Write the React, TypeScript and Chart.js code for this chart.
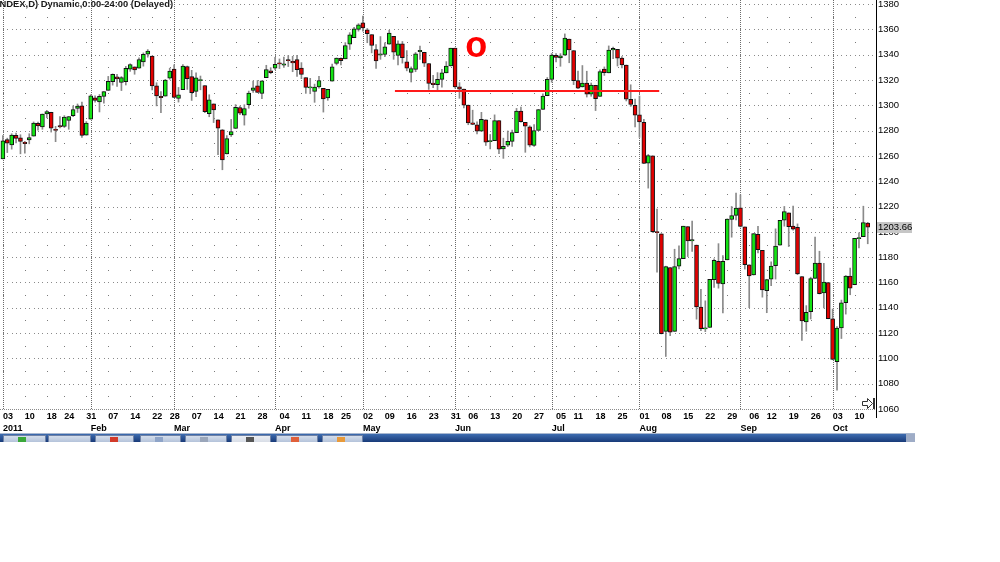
import React, { useEffect, useRef } from "react";
import { Chart, registerables } from "chart.js";

Chart.register(...registerables);

// ---------- DATA ----------
const dates: string[] = [
  "01-03","01-04","01-05","01-06","01-07","01-10","01-11","01-12","01-13","01-14","01-18","01-19","01-20","01-21","01-24","01-25","01-26","01-27","01-28","01-31",
  "02-01","02-02","02-03","02-04","02-07","02-08","02-09","02-10","02-11","02-14","02-15","02-16","02-17","02-18","02-22","02-23","02-24","02-25","02-28",
  "03-01","03-02","03-03","03-04","03-07","03-08","03-09","03-10","03-11","03-14","03-15","03-16","03-17","03-18","03-21","03-22","03-23","03-24","03-25","03-28","03-29","03-30","03-31",
  "04-01","04-04","04-05","04-06","04-07","04-08","04-11","04-12","04-13","04-14","04-15","04-18","04-19","04-20","04-21","04-25","04-26","04-27","04-28","04-29",
  "05-02","05-03","05-04","05-05","05-06","05-09","05-10","05-11","05-12","05-13","05-16","05-17","05-18","05-19","05-20","05-23","05-24","05-25","05-26","05-27","05-31",
  "06-01","06-02","06-03","06-06","06-07","06-08","06-09","06-10","06-13","06-14","06-15","06-16","06-17","06-20","06-21","06-22","06-23","06-24","06-27","06-28","06-29","06-30",
  "07-01","07-05","07-06","07-07","07-08","07-11","07-12","07-13","07-14","07-15","07-18","07-19","07-20","07-21","07-22","07-25","07-26","07-27","07-28","07-29",
  "08-01","08-02","08-03","08-04","08-05","08-08","08-09","08-10","08-11","08-12","08-15","08-16","08-17","08-18","08-19","08-22","08-23","08-24","08-25","08-26","08-29","08-30","08-31",
  "09-01","09-02","09-06","09-07","09-08","09-09","09-12","09-13","09-14","09-15","09-16","09-19","09-20","09-21","09-22","09-23","09-26","09-27","09-28","09-29","09-30",
  "10-03","10-04","10-05","10-06","10-07","10-10","10-11","10-12","10-13",
];

const opens: number[] = [
  1257.6,1272.9,1268.8,1276.3,1274.4,1270.8,1272.6,1275.7,1285.8,1282.9,1293.2,1294.5,1280.9,1283.6,1283.3,1288.2,1291.9,1297.5,1299.6,1276.5,
  1289.1,1305.9,1302.8,1307.0,1311.9,1318.8,1322.5,1318.1,1318.7,1328.7,1330.4,1329.5,1334.4,1340.4,1338.9,1315.4,1307.1,1307.3,1321.6,
  1328.6,1305.5,1312.4,1330.7,1322.7,1311.1,1319.9,1315.7,1293.4,1301.2,1288.5,1280.6,1261.6,1276.7,1281.7,1298.3,1292.2,1300.6,1311.8,1315.5,1309.4,1321.9,1327.4,
  1329.5,1333.6,1332.0,1335.9,1334.8,1336.2,1329.4,1321.9,1314.0,1311.1,1314.5,1313.4,1305.9,1319.1,1333.2,1337.1,1336.8,1348.4,1353.5,1360.1,
  1365.2,1359.8,1355.9,1344.2,1340.2,1340.2,1348.3,1354.5,1339.4,1348.7,1334.4,1326.1,1328.5,1342.4,1342.0,1333.1,1317.7,1316.4,1320.6,1325.7,1331.1,
  1345.2,1314.6,1312.9,1300.3,1286.3,1284.6,1279.6,1288.6,1271.6,1272.2,1287.9,1265.5,1268.6,1271.5,1278.4,1295.5,1286.6,1283.0,1268.4,1280.2,1296.9,1307.6,
  1320.6,1339.6,1337.6,1339.6,1352.4,1343.3,1319.6,1314.5,1317.7,1308.9,1315.9,1307.1,1328.7,1325.7,1343.8,1344.3,1337.4,1331.9,1304.8,1300.1,
  1292.6,1286.6,1254.3,1260.2,1200.3,1198.5,1121.3,1171.8,1121.3,1172.9,1178.9,1204.2,1192.9,1189.6,1140.5,1123.6,1124.4,1162.2,1176.7,1158.9,1177.9,1209.8,1213.0,
  1219.1,1203.9,1174.0,1165.9,1198.0,1185.4,1153.5,1162.6,1173.3,1189.4,1209.2,1215.0,1204.5,1203.6,1164.6,1128.8,1136.9,1163.3,1175.4,1151.7,1159.9,
  1131.2,1097.4,1124.0,1144.1,1165.0,1158.2,1194.6,1196.2,1207.0,
];

const highs: number[] = [
  1276.2,1274.1,1277.6,1278.2,1276.8,1271.5,1277.6,1286.9,1286.7,1293.2,1296.1,1294.6,1283.4,1291.2,1291.9,1291.3,1299.7,1301.1,1302.7,1287.2,
  1308.4,1307.6,1308.6,1311.0,1322.9,1324.9,1324.5,1322.8,1330.8,1332.9,1330.4,1337.6,1341.5,1344.1,1338.9,1317.9,1310.9,1320.6,1329.4,
  1332.1,1314.2,1332.3,1331.1,1327.7,1325.7,1323.2,1315.7,1308.4,1301.2,1288.5,1280.9,1276.1,1288.9,1300.6,1299.4,1300.5,1311.3,1319.2,1319.7,1319.4,1331.7,1329.8,
  1337.9,1336.7,1338.2,1339.4,1338.8,1339.5,1333.8,1321.9,1321.4,1316.8,1322.9,1313.5,1312.7,1332.7,1337.5,1337.6,1349.6,1357.5,1361.7,1364.6,
  1370.6,1360.8,1355.9,1348.0,1354.4,1349.4,1359.4,1354.5,1351.0,1350.5,1343.3,1330.4,1341.8,1346.8,1342.0,1333.1,1323.7,1325.9,1328.5,1334.6,1345.2,
  1345.2,1318.0,1312.9,1300.3,1296.2,1287.0,1294.5,1288.6,1277.0,1292.5,1287.9,1274.1,1279.8,1280.4,1297.6,1298.6,1286.6,1283.9,1284.9,1296.8,1309.2,1322.0,
  1341.0,1340.9,1340.9,1356.5,1352.4,1343.3,1327.2,1331.5,1327.0,1317.7,1315.9,1328.1,1330.4,1347.0,1346.1,1344.3,1338.5,1331.9,1316.3,1304.9,
  1307.4,1289.0,1261.2,1260.2,1218.1,1198.5,1172.9,1171.8,1186.3,1189.0,1204.5,1204.2,1208.5,1189.6,1154.5,1145.5,1162.4,1178.6,1190.7,1181.2,1210.3,1220.1,1230.7,
  1229.3,1203.9,1174.0,1198.6,1204.4,1185.4,1162.5,1176.4,1202.4,1209.1,1220.1,1215.0,1220.4,1206.3,1164.6,1141.7,1164.2,1195.9,1184.7,1175.1,1159.9,
  1139.0,1125.1,1146.1,1165.5,1171.4,1194.9,1199.2,1220.3,1207.5,
];

const lows: number[] = [
  1257.6,1262.7,1265.4,1270.4,1261.7,1262.2,1269.6,1275.7,1280.5,1281.1,1290.2,1278.9,1271.3,1282.1,1282.5,1281.1,1291.0,1294.4,1274.6,1276.5,
  1289.1,1302.6,1294.8,1301.7,1311.9,1316.0,1314.9,1311.7,1316.1,1326.9,1324.6,1329.5,1331.0,1338.1,1312.3,1299.6,1294.3,1307.3,1320.6,
  1306.1,1302.6,1312.4,1312.6,1303.9,1306.9,1312.3,1294.2,1291.0,1286.4,1261.1,1249.1,1261.6,1275.4,1281.7,1292.7,1284.4,1297.7,1310.2,1310.2,1305.3,1321.9,1325.0,
  1328.3,1329.1,1330.0,1330.7,1326.6,1322.9,1321.1,1309.5,1309.2,1302.4,1313.7,1294.7,1304.0,1319.1,1332.0,1331.9,1336.8,1344.2,1353.5,1358.7,
  1358.6,1349.5,1341.5,1329.2,1336.4,1338.6,1348.3,1336.4,1332.0,1333.4,1327.3,1318.5,1326.6,1336.4,1330.7,1312.6,1313.9,1311.8,1314.4,1325.7,1331.1,
  1313.7,1305.6,1297.9,1284.7,1284.7,1277.4,1279.6,1268.3,1265.6,1272.2,1261.9,1258.1,1267.4,1267.6,1278.4,1286.8,1262.9,1267.2,1267.5,1280.2,1296.9,1307.6,
  1318.3,1334.3,1330.9,1339.6,1333.7,1316.4,1313.3,1314.5,1306.6,1307.2,1295.9,1307.1,1323.7,1325.7,1337.0,1331.1,1329.6,1303.5,1299.2,1282.9,
  1274.7,1254.0,1234.6,1199.5,1168.1,1119.3,1101.5,1118.0,1121.3,1170.7,1178.9,1180.5,1184.5,1131.0,1122.0,1121.1,1124.4,1156.1,1155.5,1135.9,1177.9,1195.8,1209.4,
  1203.9,1170.6,1140.1,1165.9,1183.3,1148.4,1136.1,1157.4,1162.7,1189.4,1204.5,1188.4,1201.3,1166.2,1114.2,1121.4,1131.1,1163.3,1150.9,1139.9,1131.3,
  1098.9,1074.8,1115.7,1135.0,1150.3,1158.2,1187.3,1196.2,1190.6,
];

const closes: number[] = [
  1271.9,1270.2,1276.6,1273.9,1271.5,1269.8,1274.5,1286.0,1283.8,1293.2,1295.0,1281.9,1280.3,1283.4,1290.8,1291.2,1296.6,1299.5,1276.3,1286.1,
  1307.6,1304.0,1307.1,1310.9,1319.1,1324.6,1320.9,1321.9,1329.2,1332.3,1328.0,1336.3,1340.4,1343.0,1315.4,1307.4,1306.1,1319.9,1327.2,
  1306.3,1308.4,1331.0,1321.2,1310.1,1321.8,1320.0,1295.1,1304.3,1296.4,1281.9,1256.9,1273.7,1279.2,1298.4,1293.8,1297.5,1309.7,1313.8,1310.2,1319.4,1328.3,1325.8,
  1332.4,1332.9,1332.6,1335.5,1333.5,1328.2,1324.5,1314.2,1314.4,1314.5,1319.7,1305.1,1312.6,1330.4,1337.4,1335.3,1347.2,1355.7,1360.5,1363.6,
  1361.2,1356.6,1347.3,1335.1,1340.2,1346.3,1357.2,1342.1,1348.7,1337.8,1329.5,1329.0,1340.7,1343.6,1333.3,1317.4,1316.3,1320.5,1325.7,1331.1,1345.2,
  1314.6,1312.9,1300.2,1286.2,1284.9,1279.6,1289.0,1271.0,1271.8,1287.9,1265.4,1267.6,1271.5,1278.4,1295.5,1287.1,1283.5,1268.5,1280.1,1296.7,1307.4,1320.6,
  1339.7,1337.9,1339.2,1353.2,1343.8,1319.5,1313.6,1317.7,1308.9,1316.1,1305.4,1326.7,1325.8,1343.8,1345.0,1337.4,1331.9,1304.9,1300.7,1292.3,
  1286.9,1254.1,1260.3,1200.1,1199.4,1119.5,1172.5,1120.8,1172.6,1178.8,1204.5,1192.8,1193.9,1140.7,1123.5,1123.8,1162.4,1177.6,1159.3,1176.8,1210.1,1212.9,1218.9,
  1204.4,1174.0,1165.2,1198.6,1185.9,1154.2,1162.3,1172.9,1188.7,1209.1,1216.0,1204.1,1202.1,1166.8,1129.6,1136.4,1163.0,1175.4,1151.1,1160.4,1131.4,
  1099.2,1124.0,1144.0,1165.0,1155.5,1194.9,1195.5,1207.3,1203.66,
];

const weekTickDates: string[] = [
  "01-03","01-10","01-18","01-24","01-31","02-07","02-14","02-22","02-28","03-07","03-14","03-21","03-28",
  "04-04","04-11","04-18","04-25","05-02","05-09","05-16","05-23","05-31","06-06","06-13","06-20","06-27",
  "07-05","07-11","07-18","07-25","08-01","08-08","08-15","08-22","08-29","09-06","09-12","09-19","09-26","10-03","10-10",
];
const weekTickLabels: string[] = [
  "03","10","18","24","31","07","14","22","28","07","14","21","28",
  "04","11","18","25","02","09","16","23","31","06","13","20","27",
  "05","11","18","25","01","08","15","22","29","06","12","19","26","03","10",
];
const monthTickDates: string[] = ["01-03","02-01","03-01","04-01","05-02","06-01","07-01","08-01","09-01","10-03"];
const monthTickLabels: string[] = ["2011","Feb","Mar","Apr","May","Jun","Jul","Aug","Sep","Oct"];

const priceTicks: number[] = [1060,1080,1100,1120,1140,1160,1180,1200,1220,1240,1260,1280,1300,1320,1340,1360,1380];
const minorPriceTicks: number[] = [1070,1090,1110,1130,1150,1170,1190,1210,1230,1250,1270,1290,1310,1330,1350,1370];

const supportLevel = 1311.4;
const supportStartIndex = 89.3;
const supportEndIndex = 149.5;

const markText = "o";
const markIndex = 107.8;
const markPrice = 1337.9;

const titleText = "NDEX,D) Dynamic,0:00-24:00 (Delayed)";

const X_MIN = -0.66;
const X_MAX = 198.88;
const Y_MIN = 1059.2;
const Y_MAX = 1383.3;

// ---------- derived ----------
const weekIdx = weekTickDates.map((d) => dates.indexOf(d));
const monthIdx = monthTickDates.map((d) => dates.indexOf(d));

const UP = "#13e313";
const DOWN = "#e20000";
const FONT = "'Liberation Sans', Arial, sans-serif";

const gridPlugin = {
  id: "dotGrid",
  beforeDatasetsDraw(chart: any) {
    const { ctx, chartArea, scales } = chart;
    const x = scales.x;
    const y = scales.y;
    ctx.save();
    // major rows: one dot per bar slot
    ctx.fillStyle = "#8a8a8a";
    priceTicks.forEach((v, k) => {
      const py = Math.round(y.getPixelForValue(v));
      if (k === 0) {
        for (let px = 0; px < chartArea.right; px += 2) ctx.fillRect(px, py, 1, 1);
        return;
      }
      for (let i = 0; i <= 198; i++) {
        const px = Math.round(x.getPixelForValue(i));
        if (px < chartArea.right) ctx.fillRect(px, py, 1, 1);
      }
    });
    // minor rows: dots at weekly ticks
    ctx.fillStyle = "#7a7a7a";
    minorPriceTicks.forEach((v) => {
      const py = Math.round(y.getPixelForValue(v));
      weekIdx.forEach((i) => {
        const px = Math.round(x.getPixelForValue(i));
        ctx.fillRect(px, py, 1, 1);
      });
    });
    // month separators
    ctx.fillStyle = "#6a6a6a";
    monthIdx.forEach((i) => {
      const px = Math.round(x.getPixelForValue(i));
      for (let py = 0; py < chartArea.bottom; py += 2) ctx.fillRect(px, py, 1, 1);
    });
    ctx.restore();
  },
  afterDraw(chart: any) {
    const { ctx, chartArea, scales } = chart;
    const x = scales.x;
    const y = scales.y;
    ctx.save();
    // axis line extension
    ctx.fillStyle = "#000";
    ctx.fillRect(chartArea.right, chartArea.bottom, 1, 8);

    // title
    ctx.fillStyle = "#1a1a1a";
    ctx.font = `bold 9.4px ${FONT}`;
    ctx.textAlign = "left";
    ctx.textBaseline = "alphabetic";
    ctx.fillText(titleText, -0.5, 6.8);

    // red mark
    ctx.fillStyle = "#ff0000";
    ctx.font = `bold 36px ${FONT}`;
    ctx.textAlign = "center";
    ctx.fillText(markText, x.getPixelForValue(markIndex), y.getPixelForValue(markPrice));

    // last price box
    const last = closes[closes.length - 1];
    const py = y.getPixelForValue(last);
    ctx.fillStyle = "#c6c6c6";
    ctx.fillRect(chartArea.right + 1, Math.round(py) - 5, 35, 11);
    ctx.fillStyle = "#000";
    ctx.font = `9.5px ${FONT}`;
    ctx.textAlign = "left";
    ctx.textBaseline = "middle";
    ctx.fillText(last.toFixed(2), chartArea.right + 2, py + 0.5);

    // cursor icon
    ctx.strokeStyle = "#333";
    ctx.lineWidth = 1;
    ctx.beginPath();
    ctx.moveTo(862.5, 401.5);
    ctx.lineTo(867.5, 401.5);
    ctx.lineTo(867.5, 398.5);
    ctx.lineTo(872.5, 403.5);
    ctx.lineTo(867.5, 408.5);
    ctx.lineTo(867.5, 405.5);
    ctx.lineTo(862.5, 405.5);
    ctx.closePath();
    ctx.stroke();
    ctx.strokeRect(873.5, 398.5, 1, 10);

    // taskbar strip
    const tTop = 434;
    const tBot = 442;
    const g = ctx.createLinearGradient(0, tTop, 0, tBot);
    g.addColorStop(0, "#3d6cb0");
    g.addColorStop(1, "#183a78");
    ctx.fillStyle = g;
    ctx.fillRect(0, tTop, 915, tBot - tTop);
    ctx.fillStyle = "#a9b8d0";
    ctx.fillRect(0, tTop - 1, 915, 1);
    const buttons: [number, number, string][] = [
      [3, 46, "#3aa83a"], [48, 91, ""], [95, 134, "#d23a2a"], [140, 181, "#8ea4c8"],
      [185, 227, "#9aa6ba"], [231, 271, "#555"], [276, 318, "#e0603a"], [322, 363, "#e89a3a"],
    ];
    buttons.forEach(([a, b, icon], k) => {
      const bg = ctx.createLinearGradient(0, tTop, 0, tBot);
      bg.addColorStop(0, k === 5 ? "#f2f4f8" : "#dfe6f1");
      bg.addColorStop(1, k === 5 ? "#d8dde6" : "#b4c3da");
      ctx.fillStyle = bg;
      ctx.fillRect(a, tTop + 1, b - a, tBot - tTop - 1);
      ctx.fillStyle = "#6f82a6";
      ctx.fillRect(a, tTop + 1, 1, tBot - tTop - 1);
      ctx.fillRect(b - 1, tTop + 1, 1, tBot - tTop - 1);
      ctx.fillRect(a, tTop + 1, b - a, 1);
      if (icon) {
        ctx.fillStyle = icon;
        ctx.fillRect(a + 15, tTop + 3, 8, 5);
      }
    });
    ctx.fillStyle = "#9eacc6";
    ctx.fillRect(906, tTop, 9, tBot - tTop);
    ctx.restore();
  },
};

export default function App() {
  const ref = useRef<HTMLCanvasElement | null>(null);

  useEffect(() => {
    if (!ref.current) return;
    const idx = dates.map((_, i) => i);
    const MIN_BODY = 0.9;
    const bodies = idx.map((i) => {
      let lo = Math.min(opens[i], closes[i]);
      let hi = Math.max(opens[i], closes[i]);
      if (hi - lo < MIN_BODY) {
        const m = (hi + lo) / 2;
        lo = m - MIN_BODY / 2;
        hi = m + MIN_BODY / 2;
      }
      return { x: i, y: [lo, hi] };
    });
    const wicks = idx.map((i) => ({ x: i, y: [lows[i], highs[i]] }));
    const bodyColors = idx.map((i) => (closes[i] >= opens[i] ? UP : DOWN));

    const chart = new Chart(ref.current, {
      type: "bar",
      data: {
        datasets: [
          {
            type: "bar",
            label: "body",
            data: bodies as any,
            backgroundColor: bodyColors,
            borderColor: "#111",
            borderWidth: 1,
            borderSkipped: false,
            barThickness: 4,
            grouped: false,
            order: 1,
          } as any,
          {
            type: "bar",
            label: "wick",
            data: wicks as any,
            backgroundColor: "#8a8a8a",
            borderWidth: 0,
            barThickness: 1,
            grouped: false,
            order: 2,
          } as any,
          {
            type: "line",
            label: "level",
            data: [
              { x: supportStartIndex, y: supportLevel },
              { x: supportEndIndex, y: supportLevel },
            ],
            borderColor: "#ff1a1a",
            borderWidth: 2,
            pointRadius: 0,
            order: 0,
          } as any,
        ],
      },
      options: {
        animation: false,
        responsive: false,
        maintainAspectRatio: false,
        devicePixelRatio: 1,
        layout: { padding: 0 },
        plugins: { legend: { display: false }, tooltip: { enabled: false } },
        scales: {
          x: {
            type: "linear",
            position: "bottom",
            min: X_MIN,
            max: X_MAX,
            offset: false,
            weight: 0,
            grid: { display: false, drawTicks: false },
            border: { display: false },
            afterBuildTicks: (s: any) => {
              s.ticks = weekIdx.map((v) => ({ value: v }));
            },
            afterFit: (s: any) => {
              s.height = 12;
              s.paddingLeft = 0;
              s.paddingRight = 0;
              s.paddingTop = 0;
              s.paddingBottom = 0;
            },
            ticks: {
              autoSkip: false,
              maxRotation: 0,
              minRotation: 0,
              align: "start",
              padding: 1,
              color: "#000",
              font: { family: FONT, size: 9, weight: "bold" },
              callback: (v: any) => {
                const k = weekIdx.indexOf(Number(v));
                return k >= 0 ? weekTickLabels[k] : "";
              },
            },
          },
          y: {
            type: "linear",
            position: "right",
            min: Y_MIN,
            max: Y_MAX,
            grid: { display: false, drawTicks: false },
            border: { display: true, color: "#000", width: 1 },
            afterBuildTicks: (s: any) => {
              s.ticks = priceTicks.map((v) => ({ value: v }));
            },
            afterFit: (s: any) => {
              s.width = 124;
              s.paddingLeft = 0;
              s.paddingRight = 0;
              s.paddingTop = 0;
              s.paddingBottom = 0;
            },
            ticks: {
              padding: 2,
              color: "#000",
              font: { family: FONT, size: 9.5 },
              callback: (v: any) => String(v),
            },
          },
          x2: {
            type: "linear",
            position: "bottom",
            min: X_MIN,
            max: X_MAX,
            offset: false,
            weight: 1,
            grid: { display: false, drawTicks: false },
            border: { display: false },
            afterBuildTicks: (s: any) => {
              s.ticks = monthIdx.map((v) => ({ value: v }));
            },
            afterFit: (s: any) => {
              s.height = 140;
              s.paddingLeft = 0;
              s.paddingRight = 0;
              s.paddingTop = 0;
              s.paddingBottom = 0;
            },
            ticks: {
              autoSkip: false,
              maxRotation: 0,
              minRotation: 0,
              align: "start",
              padding: 1,
              color: "#000",
              font: { family: FONT, size: 9, weight: "bold" },
              callback: (v: any) => {
                const k = monthIdx.indexOf(Number(v));
                return k >= 0 ? monthTickLabels[k] : "";
              },
            },
          },
        },
      } as any,
      plugins: [gridPlugin],
    });
    return () => chart.destroy();
  }, []);

  return (
    <div style={{ position: "absolute", left: 0, top: 0, width: 1000, height: 562, background: "#fff" }}>
      <canvas ref={ref} width={1000} height={562} style={{ display: "block" }} />
    </div>
  );
}
